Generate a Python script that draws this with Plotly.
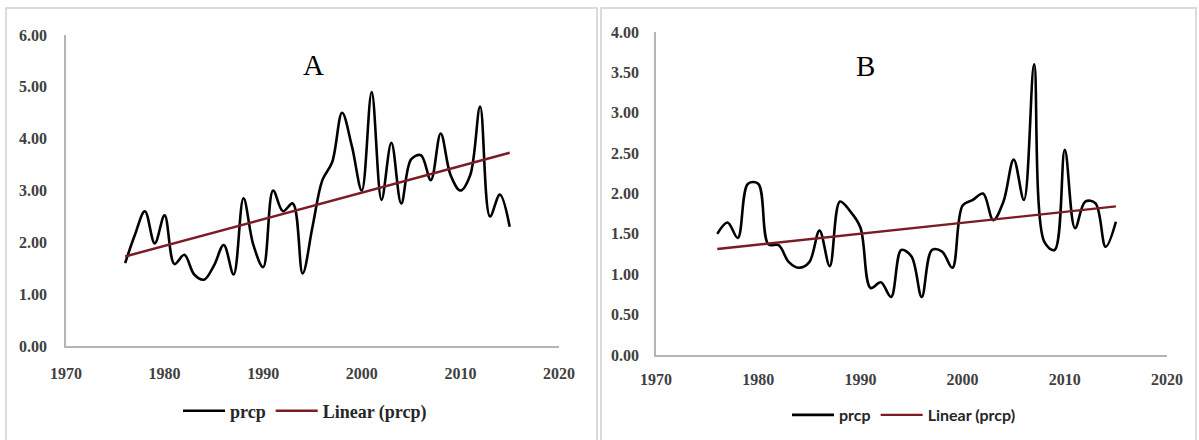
import numpy as np
import plotly.graph_objects as go

W, H = 1199, 440

years = list(range(1976, 2016))

prcp_a = [1.60, 2.15, 2.60, 1.98, 2.52, 1.58, 1.76, 1.38, 1.28, 1.55,
          1.95, 1.38, 2.85, 1.95, 1.52, 3.00, 2.60, 2.75, 1.40, 2.30,
          3.20, 3.55, 4.50, 3.85, 3.00, 4.90, 2.82, 3.92, 2.75, 3.60,
          3.68, 3.20, 4.10, 3.30, 3.00, 3.30, 4.62, 2.50, 2.92, 2.30]

prcp_b = [1.50, 1.64, 1.45, 2.12, 2.12, 1.37, 1.36, 1.15, 1.08, 1.15,
          1.54, 1.10, 1.90, 1.78, 1.58, 0.83, 0.90, 0.72, 1.30, 1.22,
          0.72, 1.30, 1.28, 1.08, 1.85, 1.92, 2.00, 1.67, 1.90, 2.42,
          1.92, 3.60, 1.40, 1.30, 2.54, 1.57, 1.90, 1.88, 1.34, 1.65]

x_ticks = [1970, 1980, 1990, 2000, 2010, 2020]
y_ticks_a = [0, 1, 2, 3, 4, 5, 6]
y_ticks_b = [0, 0.5, 1, 1.5, 2, 2.5, 3, 3.5, 4]

series_names = ["prcp", "Linear (prcp)"]
line_color = "#000000"
trend_color = "#7b1c24"


def trend(xs, ys):
    k, b = np.polyfit(xs, ys, 1)
    return [k * x + b for x in xs]


fig = go.Figure()

serif = "Liberation Serif"
tick_font = dict(family=serif, size=16, color="#404040", weight="bold")

# Panel A
fig.add_trace(go.Scatter(x=years, y=prcp_a, mode="lines", name=series_names[0],
                         line=dict(color=line_color, width=2.6, shape="spline", smoothing=1.0),
                         xaxis="x", yaxis="y", legend="legend"))
fig.add_trace(go.Scatter(x=years, y=trend(years, prcp_a), mode="lines", name=series_names[1],
                         line=dict(color=trend_color, width=2.4),
                         xaxis="x", yaxis="y", legend="legend"))
# Panel B
fig.add_trace(go.Scatter(x=years, y=prcp_b, mode="lines", name=series_names[0],
                         line=dict(color=line_color, width=2.6, shape="spline", smoothing=1.0),
                         xaxis="x2", yaxis="y2", legend="legend2"))
fig.add_trace(go.Scatter(x=years, y=trend(years, prcp_b), mode="lines", name=series_names[1],
                         line=dict(color=trend_color, width=2.4),
                         xaxis="x2", yaxis="y2", legend="legend2"))

axis_common = dict(showgrid=False, zeroline=False, showline=True, linecolor="#b5b5b5",
                   linewidth=1.5, ticks="", tickfont=tick_font, automargin=False)

fig.update_layout(
    width=W, height=H,
    margin=dict(l=0, r=0, t=0, b=0, autoexpand=False),
    paper_bgcolor="white", plot_bgcolor="white",
    xaxis=dict(domain=[66 / W, 559 / W], range=[1970, 2020], tickvals=x_ticks,
               anchor="y", ticklabelstandoff=12, **axis_common),
    yaxis=dict(domain=[(H - 346) / H, (H - 35) / H], range=[0, 6], tickvals=y_ticks_a,
               tickformat=".2f", anchor="x", ticklabelstandoff=14, **axis_common),
    xaxis2=dict(domain=[656 / W, 1167 / W], range=[1970, 2020], tickvals=x_ticks,
                anchor="y2", ticklabelstandoff=9, **axis_common),
    yaxis2=dict(domain=[(H - 355) / H, (H - 32) / H], range=[0, 4], tickvals=y_ticks_b,
                tickformat=".2f", anchor="x2", ticklabelstandoff=12, **axis_common),
    legend=dict(orientation="h", x=305 / W, xanchor="center", y=(H - 411) / H, yanchor="middle",
                font=dict(family=serif, size=18, color="#262626", weight="bold"),
                bgcolor="rgba(0,0,0,0)", itemwidth=42),
    legend2=dict(orientation="h", x=904 / W, xanchor="center", y=(H - 415) / H, yanchor="middle",
                 font=dict(family="Lato", size=16, color="#262626", weight="bold"),
                 bgcolor="rgba(0,0,0,0)", itemwidth=42),
    showlegend=True,
    annotations=[
        dict(text="A", x=314 / W, y=(H - 65) / H, xref="paper", yref="paper", showarrow=False,
             xanchor="center", yanchor="middle",
             font=dict(family=serif, size=29, color="black")),
        dict(text="B", x=866 / W, y=(H - 66) / H, xref="paper", yref="paper", showarrow=False,
             xanchor="center", yanchor="middle",
             font=dict(family=serif, size=29, color="black")),
    ],
    shapes=[
        dict(type="rect", xref="paper", yref="paper", x0=6 / W, x1=597 / W, y0=-0.01, y1=(H - 8) / H,
             line=dict(color="#d0d0d0", width=1.5)),
        dict(type="rect", xref="paper", yref="paper", x0=601 / W, x1=1196 / W, y0=-0.01, y1=(H - 8) / H,
             line=dict(color="#d0d0d0", width=1.5)),
    ],
)

fig.write_html("out.html")
